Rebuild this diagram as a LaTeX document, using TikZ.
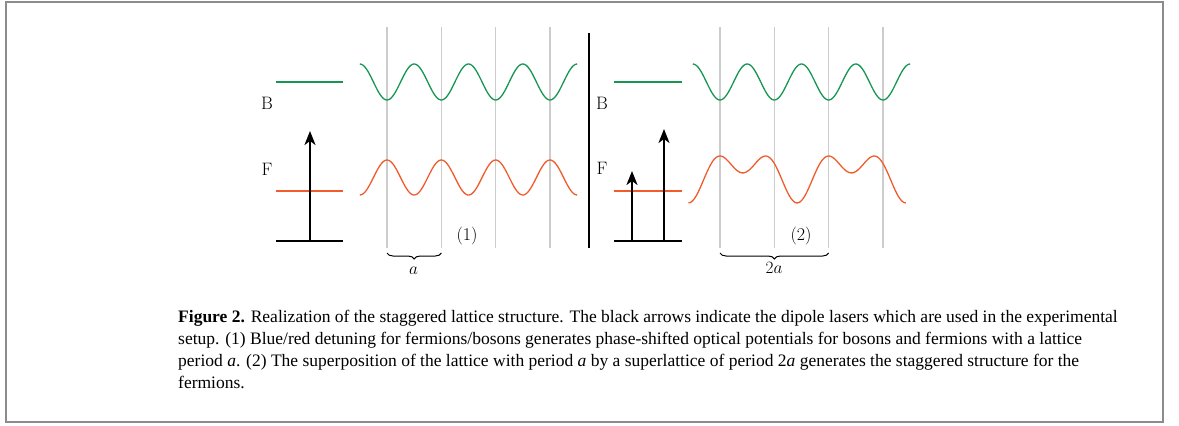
\documentclass[tikz,border=0pt]{standalone}
\usepackage{fontspec}
\newfontfamily\capfont{Liberation Serif}
\usetikzlibrary{arrows.meta,decorations.pathreplacing,calc}
\definecolor{bgreen}{RGB}{22,150,82}
\definecolor{fred}{RGB}{240,92,44}
\definecolor{glines}{RGB}{204,204,204}
\definecolor{frameg}{RGB}{140,140,140}
\begin{document}
\begin{tikzpicture}[x=1pt,y=-1pt,
  level/.style={line width=1.3pt},
  wave/.style={line width=1.3pt,smooth},
  gridline/.style={glines,line width=1.3pt},
  laser/.style={line width=2pt,-{Stealth[length=14pt,width=11pt,inset=4pt]}},
  lbl/.style={inner sep=0pt,font=\fontsize{18}{22}\selectfont},
  lattbrace/.style={line width=1pt,decorate,decoration={brace,mirror,amplitude=6pt}},
]
\useasboundingbox (0,0) rectangle (1179,426);
\draw[frameg,line width=2pt] (6,1.5) rectangle (1162.5,421.5);

% ---------- panel (1) ----------
\foreach \k in {0,1,2,3}{
  \draw[gridline] ({387+54.33*\k},27) coordinate (gt1\k) -- ({387+54.33*\k},248) coordinate (gb1\k);
}
\draw[level,bgreen] (276,82) coordinate (b1l) -- (343,82) coordinate (b1r);
\draw[level,fred] (276,191) coordinate (f1l) -- (343,191) coordinate (f1r);
\draw[level] (276,241) coordinate (g1l) -- (343,241) coordinate (g1r);
\coordinate (a1s) at (310,241);
\coordinate (a1e) at (310,131);
\draw[laser] (a1s) -- (a1e);
\node[lbl] (B1) at (267,103) {B};
\node[lbl] (F1) at (267,169) {F};
\draw[wave,bgreen] plot[domain=359.8:577.2,samples=160] (\x,{82+18*cos((\x-387)*6.6262)});
\draw[wave,fred] plot[domain=359.8:577.2,samples=160] (\x,{177.5-17.5*cos((\x-387)*6.6262)});
\node[lbl] (L1) at (467,236) {(1)};
\draw[lattbrace] ($(gb10)+(0,5)$) -- ($(gb11)+(0,5)$);
\node[lbl] (per1) at (413.5,271) {$a$};

% divider
\draw[line width=1.3pt] (589,33) coordinate (dt) -- (589,248) coordinate (db);

% ---------- panel (2) ----------
\foreach \k in {0,1,2,3}{
  \draw[gridline] ({720+54.33*\k},27) coordinate (gt2\k) -- ({720+54.33*\k},248) coordinate (gb2\k);
}
\draw[level,bgreen] (614,82) coordinate (b2l) -- (682,82) coordinate (b2r);
\draw[level,fred] (614,191) coordinate (f2l) -- (682,191) coordinate (f2r);
\draw[level] (614,241) coordinate (g2l) -- (682,241) coordinate (g2r);
\coordinate (a2s) at (632,241);
\coordinate (a2e) at (632,171);
\coordinate (a3s) at (664,241);
\coordinate (a3e) at (664,129);
\draw[laser] (a2s) -- (a2e);
\draw[laser] (a3s) -- (a3e);
\node[lbl] (B2) at (602,103) {B};
\node[lbl] (F2) at (602,168) {F};
\draw[wave,bgreen] plot[domain=692.8:910.2,samples=160] (\x,{82+18*cos((\x-720)*6.6262)});
\draw[wave,fred] plot[domain=688.5:905.8,samples=200] (\x,{172.9-15*(-cos((\x-742.8)*6.6262)+cos((\x-742.8)*3.3131))});
\node[lbl] (L2) at (801,236) {(2)};
\draw[lattbrace] ($(gb20)+(0,5)$) -- ($(gb22)+(0,5)$);
\node[lbl] (per2) at (774,268) {$2a$};

% ---------- caption ----------
\node[anchor=base west,inner sep=0pt,align=left,font=\capfont\fontsize{17.5}{22}\selectfont] (cap) at (178,388)
{\textbf{Figure 2.} Realization of the staggered lattice structure. The black arrows indicate the dipole lasers which are used in the experimental\\
setup. (1) Blue/red detuning for fermions/bosons generates phase-shifted optical potentials for bosons and fermions with a lattice\\
period \textit{a}. (2) The superposition of the lattice with period \textit{a} by a superlattice of period 2\textit{a} generates the staggered structure for the\\
fermions.};
\end{tikzpicture}
\end{document}
